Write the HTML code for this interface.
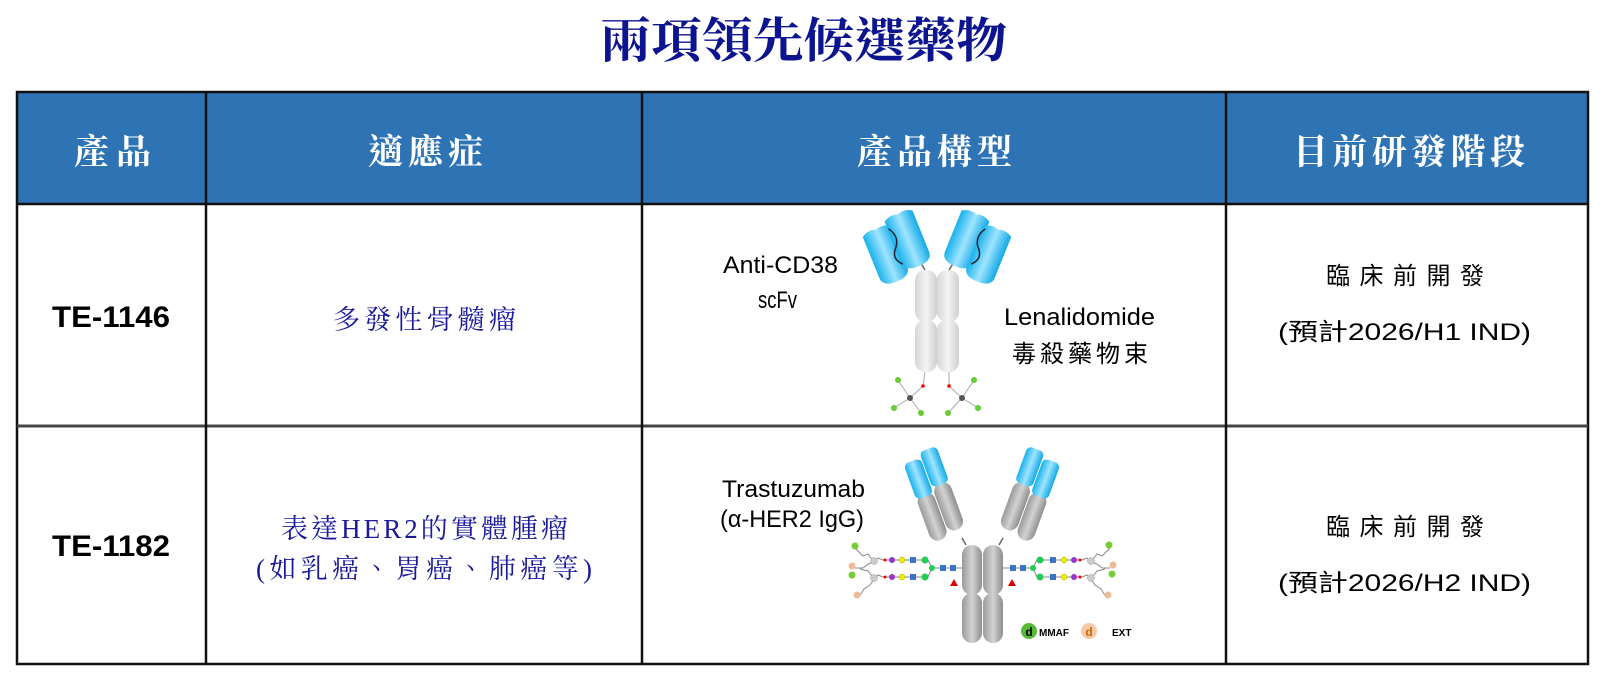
<!DOCTYPE html>
<html><head><meta charset="utf-8"><style>
html,body{margin:0;padding:0;background:#fff;}
svg{display:block;}
</style></head><body>
<svg width="1609" height="680" viewBox="0 0 1609 680" xmlns="http://www.w3.org/2000/svg">
<defs>
<linearGradient id="gb" x1="0" x2="1"><stop offset="0" stop-color="#18b2ec"/><stop offset="0.5" stop-color="#9fe4ff"/><stop offset="1" stop-color="#12a9e6"/></linearGradient>
<linearGradient id="gg" x1="0" x2="1"><stop offset="0" stop-color="#9a9a9a"/><stop offset="0.5" stop-color="#d2d2d2"/><stop offset="1" stop-color="#8e8e8e"/></linearGradient>
<linearGradient id="gl" x1="0" x2="1"><stop offset="0" stop-color="#d6d6d6"/><stop offset="0.5" stop-color="#f4f4f4"/><stop offset="1" stop-color="#cfcfcf"/></linearGradient>
<g id="lobe"><path d="M-15 -26 q7 -5 15 -2 q8 -3 15 2 L15 18 q0 10 -15 10 q-15 0 -15 -10 Z" fill="url(#gb)"/></g>
</defs>
<text x="600" y="57" textLength="407" lengthAdjust="spacingAndGlyphs" font-family="'Liberation Serif','Noto Serif CJK TC',serif" font-weight="bold" font-size="48" fill="#0c1490">兩項領先候選藥物</text>
<rect x="17" y="92" width="1571" height="112" fill="#2e74b5"/>
<g stroke="#111" stroke-width="2.5" fill="none">
<rect x="17" y="92" width="1571" height="572"/>
<line x1="17" y1="204" x2="1588" y2="204"/>
<line x1="17" y1="426" x2="1588" y2="426" stroke="#444" stroke-width="3"/>
<line x1="206" y1="92" x2="206" y2="664"/>
<line x1="642" y1="92" x2="642" y2="664"/>
<line x1="1226" y1="92" x2="1226" y2="664"/>
</g>
<g font-family="'Liberation Serif','Noto Serif CJK TC',serif" font-weight="bold" font-size="35" fill="#fff">
<text x="74" y="164" textLength="77" lengthAdjust="spacing">產品</text>
<text x="368" y="164" textLength="115" lengthAdjust="spacing">適應症</text>
<text x="857" y="164" textLength="155" lengthAdjust="spacing">產品構型</text>
<text x="1293" y="164" textLength="232" lengthAdjust="spacing">目前研發階段</text>
</g>
<g font-family="'Liberation Sans','Noto Sans CJK TC',sans-serif" font-weight="bold" font-size="30" fill="#000">
<text x="52" y="327" textLength="118" lengthAdjust="spacingAndGlyphs">TE-1146</text>
<text x="52" y="556" textLength="118" lengthAdjust="spacingAndGlyphs">TE-1182</text>
</g>
<g font-family="'Liberation Serif','Noto Serif CJK TC',serif" font-size="27" fill="#1a1a9a">
<text x="333" y="329" textLength="183" lengthAdjust="spacing">多發性骨髓瘤</text>
<text x="281" y="538" textLength="287" lengthAdjust="spacing">表達HER2的實體腫瘤</text>
<text x="256" y="578" textLength="336" lengthAdjust="spacing">(如乳癌、胃癌、肺癌等)</text>
</g>
<g font-family="'Liberation Sans','Noto Sans CJK TC',sans-serif" font-size="24" fill="#000">
<text x="1326" y="284" textLength="158" lengthAdjust="spacing">臨床前開發</text>
<text x="1278" y="340" textLength="253" lengthAdjust="spacingAndGlyphs">(預計2026/H1 IND)</text>
<text x="1326" y="535" textLength="158" lengthAdjust="spacing">臨床前開發</text>
<text x="1278" y="591" textLength="253" lengthAdjust="spacingAndGlyphs">(預計2026/H2 IND)</text>
<text x="723" y="273" textLength="115" lengthAdjust="spacingAndGlyphs">Anti-CD38</text>
<text x="758" y="308" textLength="39" lengthAdjust="spacingAndGlyphs">scFv</text>
<text x="1004" y="325" textLength="151" lengthAdjust="spacingAndGlyphs">Lenalidomide</text>
<text x="1012" y="362" textLength="136" lengthAdjust="spacing">毒殺藥物束</text>
<text x="722" y="497" textLength="143" lengthAdjust="spacingAndGlyphs">Trastuzumab</text>
<text x="720" y="527" textLength="144" lengthAdjust="spacingAndGlyphs">(α-HER2 IgG)</text>
</g>
<!-- antibody 1 -->
<g>
<rect x="915" y="270" width="22" height="52" rx="10" fill="url(#gl)"/><rect x="937" y="270" width="22" height="52" rx="10" fill="url(#gl)"/>
<rect x="915" y="320" width="22" height="52" rx="10" fill="url(#gl)"/><rect x="937" y="320" width="22" height="52" rx="10" fill="url(#gl)"/>
<line x1="925" y1="270" x2="920" y2="262" stroke="#666" stroke-width="1.5"/><line x1="949" y1="270" x2="954" y2="262" stroke="#666" stroke-width="1.5"/>
<g transform="translate(897,247) rotate(-22)"><use href="#lobe" transform="translate(-13,4)"/><use href="#lobe" transform="translate(13,-2)"/><path d="M-1 -20 q8 12 -2 22 q-6 8 2 16" stroke="#223" stroke-width="1.5" fill="none"/></g>
<g transform="translate(977,247) rotate(22)"><use href="#lobe" transform="translate(-13,-2)"/><use href="#lobe" transform="translate(13,4)"/><path d="M1 -20 q-8 12 2 22 q6 8 -2 16" stroke="#223" stroke-width="1.5" fill="none"/></g>
<g stroke="#aaa" stroke-width="1" fill="none"><path d="M925 372 L923 386 L910 398 L898 380 M910 398 L894 408 M910 398 L921 413"/><path d="M949 372 L949 386 L962 398 L974 380 M962 398 L978 408 M962 398 L948 413"/></g>
<g fill="#6c3"><circle cx="898" cy="380" r="3"/><circle cx="894" cy="408" r="3"/><circle cx="921" cy="413" r="3"/><circle cx="974" cy="380" r="3"/><circle cx="978" cy="408" r="3"/><circle cx="948" cy="413" r="3"/></g>
<circle cx="910" cy="398" r="3" fill="#555"/><circle cx="962" cy="398" r="3" fill="#555"/>
<circle cx="923" cy="386" r="1.8" fill="red"/><circle cx="949" cy="386" r="1.8" fill="red"/>
</g>
<!-- antibody 2 -->
<g>
<rect x="962" y="545" width="20" height="50" rx="10" fill="url(#gg)"/><rect x="983" y="545" width="20" height="50" rx="10" fill="url(#gg)"/>
<rect x="962" y="593" width="20" height="50" rx="10" fill="url(#gg)"/><rect x="983" y="593" width="20" height="50" rx="10" fill="url(#gg)"/>
<line x1="966" y1="545" x2="962" y2="538" stroke="#666" stroke-width="1.5"/><line x1="999" y1="545" x2="1003" y2="538" stroke="#666" stroke-width="1.5"/>
<g transform="translate(932,490) rotate(-20)"><rect x="-18" y="0" width="18" height="50" rx="9" fill="url(#gg)"/><rect x="1" y="-4" width="18" height="50" rx="9" fill="url(#gg)"/><rect x="-18" y="-34" width="18" height="38" rx="5" fill="url(#gb)"/><rect x="1" y="-40" width="18" height="38" rx="5" fill="url(#gb)"/></g>
<g transform="translate(1032,490) rotate(20)"><rect x="-19" y="-4" width="18" height="50" rx="9" fill="url(#gg)"/><rect x="0" y="0" width="18" height="50" rx="9" fill="url(#gg)"/><rect x="-19" y="-40" width="18" height="38" rx="5" fill="url(#gb)"/><rect x="0" y="-34" width="18" height="38" rx="5" fill="url(#gb)"/></g>
<g stroke="#888" stroke-width="1" fill="none"><line x1="883" y1="560" x2="928" y2="560"/><line x1="883" y1="577" x2="928" y2="577"/><path d="M928 560 L932 568 L928 577 M932 568 L962 568"/><line x1="1003" y1="568" x2="1033" y2="568"/><path d="M1037 560 L1033 568 L1037 577"/><line x1="1037" y1="560" x2="1082" y2="560"/><line x1="1037" y1="577" x2="1082" y2="577"/>
<path d="M883 560 l-5 -2 l-4 4 l-6 -8 l-5 2 l-8 -8 M874 562 l-6 2 l-5 4 l-8 0 M883 577 l-5 -2 l-4 4 l-6 -8 l-8 -2 M874 579 l-4 6 l-6 4 l-5 8"/>
<path d="M1082 560 l5 -2 l4 4 l6 -8 l5 2 l8 -8 M1091 562 l6 2 l5 4 l8 0 M1082 577 l5 -2 l4 4 l6 -8 l8 -2 M1091 579 l4 6 l6 4 l5 8"/></g>
<g fill="#ccc" stroke="#999" stroke-width="0.5"><circle cx="874" cy="561" r="3.5"/><circle cx="874" cy="578" r="3.5"/><circle cx="1091" cy="561" r="3.5"/><circle cx="1091" cy="578" r="3.5"/></g>
<g fill="#3a73c8"><rect x="950" y="565" width="6" height="6"/><rect x="940" y="565" width="6" height="6"/><rect x="1010" y="565" width="6" height="6"/><rect x="1020" y="565" width="6" height="6"/><rect x="910" y="557" width="6" height="6"/><rect x="910" y="574" width="6" height="6"/><rect x="1050" y="557" width="6" height="6"/><rect x="1050" y="574" width="6" height="6"/></g>
<g fill="#2c5"><circle cx="925" cy="560" r="3.5"/><circle cx="925" cy="577" r="3.5"/><circle cx="1040" cy="560" r="3.5"/><circle cx="1040" cy="577" r="3.5"/><circle cx="932" cy="568" r="3"/><circle cx="1033" cy="568" r="3"/></g>
<g fill="#ee0" stroke="#aa0" stroke-width="0.5"><circle cx="902" cy="560" r="3"/><circle cx="902" cy="577" r="3"/><circle cx="1064" cy="560" r="3"/><circle cx="1064" cy="577" r="3"/></g>
<g fill="#93c"><circle cx="892" cy="560" r="3"/><circle cx="892" cy="577" r="3"/><circle cx="1074" cy="560" r="3"/><circle cx="1074" cy="577" r="3"/></g>
<g fill="red"><circle cx="885" cy="560" r="1.5"/><circle cx="885" cy="577" r="1.5"/><circle cx="1080" cy="560" r="1.5"/><circle cx="1080" cy="577" r="1.5"/></g>
<g fill="#7c3"><circle cx="855" cy="546" r="3.5"/><circle cx="852" cy="575" r="3.5"/><circle cx="1109" cy="545" r="3.5"/><circle cx="1112" cy="574" r="3.5"/></g>
<g fill="#eb9"><circle cx="852" cy="566" r="3.5"/><circle cx="857" cy="595" r="3.5"/><circle cx="1113" cy="565" r="3.5"/><circle cx="1108" cy="595" r="3.5"/></g>
<polygon points="954,579 958,586 950,586" fill="#d00"/><polygon points="1012,579 1016,586 1008,586" fill="#d00"/>
<circle cx="1029" cy="631" r="8" fill="#5b3"/><text x="1029" y="636" text-anchor="middle" font-family="Liberation Sans" font-weight="bold" font-size="12" fill="#000">d</text>
<text x="1039" y="636" font-family="Liberation Sans" font-weight="bold" font-size="10">MMAF</text>
<circle cx="1089" cy="631" r="8" fill="#f3c9aa"/><text x="1089" y="636" text-anchor="middle" font-family="Liberation Sans" font-weight="bold" font-size="12" fill="#c60">d</text>
<text x="1112" y="636" font-family="Liberation Sans" font-weight="bold" font-size="10">EXT</text>
</g>
</svg>
</body></html>
